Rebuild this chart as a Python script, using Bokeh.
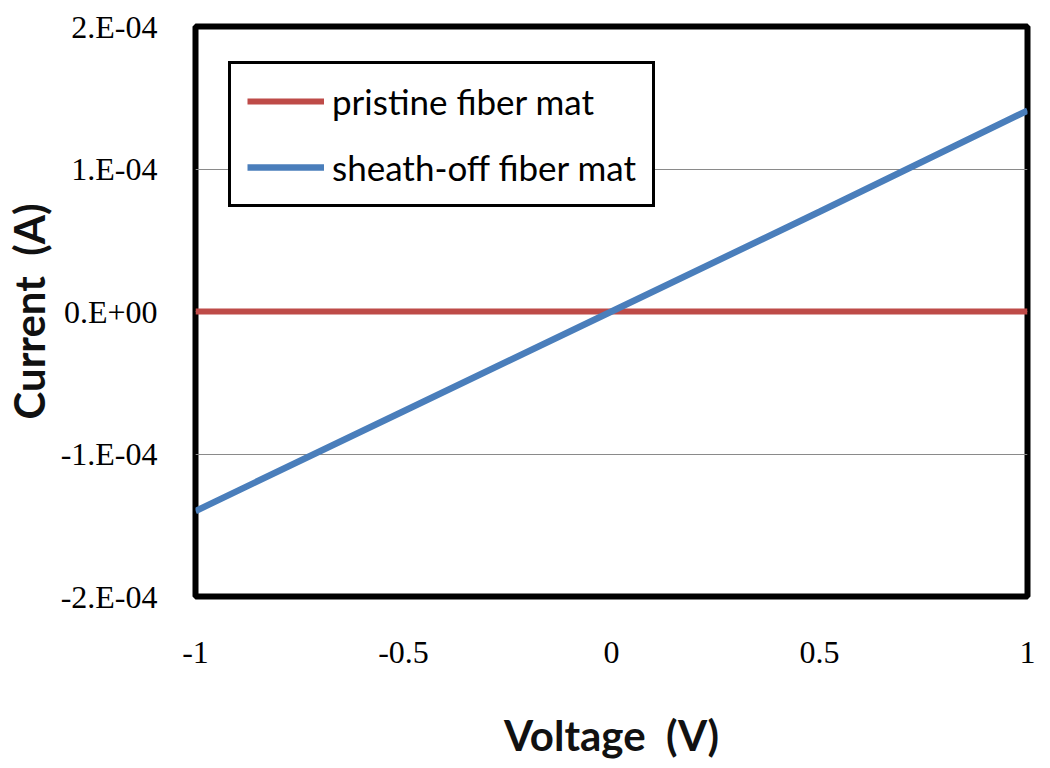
from bokeh.plotting import figure
from bokeh.models import FixedTicker, Legend, LegendItem, Range1d
from bokeh.embed import file_html
from bokeh.resources import INLINE

voltage = [-1.0, -0.5, 0.0, 0.5, 1.0]
pristine_current = [0.0, 0.0, 0.0, 0.0, 0.0]
sheath_off_current = [-1.40e-4, -0.70e-4, 0.0, 0.70e-4, 1.41e-4]

x_ticks = [-1, -0.5, 0, 0.5, 1]
x_tick_labels = ["-1", "-0.5", "0", "0.5", "1"]
y_ticks = [-2e-4, -1e-4, 0.0, 1e-4, 2e-4]
y_tick_labels = ["-2.E-04", "-1.E-04", "0.E+00", "1.E-04", "2.E-04"]

series_names = ["pristine fiber mat", "sheath-off fiber mat"]
series_colors = ["#BE4B48", "#4A7EBB"]

p = figure(frame_width=832, frame_height=570,
           min_border_left=188, min_border_right=14,
           min_border_top=26, min_border_bottom=156,
           output_backend="svg", toolbar_location=None,
           x_range=Range1d(-1, 1), y_range=Range1d(-2e-4, 2e-4))

p.outline_line_color = "black"
p.outline_line_width = 6
p.outline_line_alpha = 1
p.background_fill_color = "white"
p.border_fill_color = "white"

p.xgrid.visible = False
p.ygrid.grid_line_color = "#8a8a8a"
p.ygrid.grid_line_width = 1
p.ygrid.ticker = FixedTicker(ticks=y_ticks)

p.xaxis.ticker = FixedTicker(ticks=x_ticks)
p.yaxis.ticker = FixedTicker(ticks=y_ticks)
p.xaxis.major_label_overrides = {t: l for t, l in zip(x_ticks, x_tick_labels)}
p.yaxis.major_label_overrides = {t: l for t, l in zip(y_ticks, y_tick_labels)}

for ax in (p.xaxis, p.yaxis):
    ax.axis_line_color = None
    ax.major_tick_line_color = None
    ax.minor_tick_line_color = None
    ax.major_tick_out = 0
    ax.major_tick_in = 0
    ax.major_label_text_font = "Liberation Serif"
    ax.major_label_text_font_size = "32px"
    ax.major_label_text_color = "black"
    ax.axis_label_text_font = "Lato"
    ax.axis_label_text_font_style = "bold"
    ax.axis_label_text_font_size = "42px"
    ax.axis_label_text_color = "#111111"

p.xaxis.axis_label = "Voltage\u00a0\u00a0(V)"
p.yaxis.axis_label = "Current\u00a0\u00a0(A)"
p.xaxis.major_label_standoff = 45
p.yaxis.major_label_standoff = 38
p.xaxis.axis_label_standoff = 44
p.yaxis.axis_label_standoff = 4

r1 = p.line(voltage, pristine_current, line_color=series_colors[0], line_width=6)
r2 = p.line(voltage, sheath_off_current, line_color=series_colors[1], line_width=6.5)

legend = Legend(items=[LegendItem(label=series_names[0], renderers=[r1]),
                       LegendItem(label=series_names[1], renderers=[r2])],
                location=(33, 389))
legend.border_line_color = "black"
legend.border_line_width = 3
legend.border_line_alpha = 1
legend.background_fill_color = "white"
legend.background_fill_alpha = 1
legend.label_text_font = "Lato"
legend.label_text_font_size = "35px"
legend.label_text_color = "black"
legend.glyph_width = 77
legend.glyph_height = 42
legend.label_height = 42
legend.label_standoff = 8
legend.spacing = 24
legend.padding = 16
legend.margin = 0
p.add_layout(legend, "center")

open("out.html", "w").write(file_html(p, INLINE))
